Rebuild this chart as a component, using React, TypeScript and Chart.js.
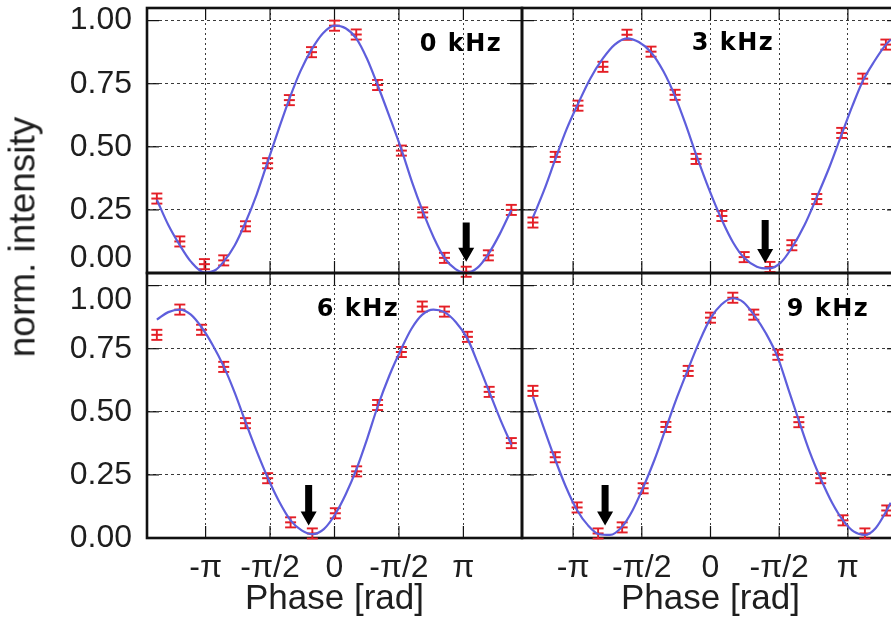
import React, { useEffect, useRef } from 'react';
import { Chart, registerables } from 'chart.js';

Chart.register(...registerables);

// ---------- data ----------
const xTickValues = [-Math.PI, -Math.PI / 2, 0, Math.PI / 2, Math.PI];
const xTickLabels = ['-π', '-π/2', '0', '-π/2', 'π'];
const yTickValues = [0, 0.25, 0.5, 0.75, 1.0];
const yTickLabels = ['0.00', '0.25', '0.50', '0.75', '1.00'];

const panelLabels = ['0 kHz', '3 kHz', '6 kHz', '9 kHz'];

// 0 kHz
const phase0 = [-4.33, -3.77, -3.17, -2.70, -2.17, -1.63, -1.10, -0.56, 0.00, 0.53, 1.05, 1.63, 2.15, 2.68, 3.21, 3.75, 4.31];
const int0 = [0.295, 0.125, 0.035, 0.05, 0.185, 0.435, 0.685, 0.875, 0.98, 0.945, 0.745, 0.485, 0.24, 0.06, 0.005, 0.07, 0.25];
const fitPhase0 = [-4.33, -4.05, -3.77, -3.50, -3.17, -2.90, -2.70, -2.43, -2.17, -1.90, -1.63, -1.37, -1.10, -0.83, -0.56, -0.28, 0.00, 0.27, 0.53, 0.79, 1.05, 1.34, 1.63, 1.89, 2.15, 2.42, 2.68, 2.95, 3.21, 3.48, 3.75, 4.03, 4.31];
const fit0 = [0.29, 0.19, 0.11, 0.045, 0.002, 0.012, 0.045, 0.11, 0.20, 0.31, 0.44, 0.565, 0.69, 0.80, 0.885, 0.95, 0.98, 0.97, 0.93, 0.85, 0.745, 0.62, 0.49, 0.36, 0.245, 0.14, 0.06, 0.015, 0.0, 0.02, 0.075, 0.155, 0.25];

// 3 kHz
const phase3 = [-4.06, -3.55, -3.03, -2.46, -1.91, -1.36, -0.81, -0.33, 0.26, 0.77, 1.36, 1.86, 2.43, 3.00, 3.48, 4.01];
const int3 = [0.20, 0.46, 0.663, 0.817, 0.944, 0.877, 0.706, 0.452, 0.226, 0.063, 0.024, 0.11, 0.293, 0.555, 0.77, 0.905];
const fitPhase3 = [-4.06, -3.80, -3.55, -3.29, -3.03, -2.75, -2.46, -2.19, -1.91, -1.64, -1.36, -1.08, -0.81, -0.57, -0.33, -0.03, 0.26, 0.52, 0.77, 1.06, 1.33, 1.60, 1.86, 2.15, 2.43, 2.72, 3.00, 3.24, 3.48, 3.75, 4.01, 4.12];
const fit3 = [0.22, 0.33, 0.45, 0.57, 0.67, 0.77, 0.85, 0.905, 0.93, 0.915, 0.875, 0.80, 0.70, 0.59, 0.47, 0.33, 0.21, 0.12, 0.06, 0.025, 0.018, 0.04, 0.10, 0.19, 0.30, 0.42, 0.55, 0.66, 0.76, 0.84, 0.905, 0.925];

// 6 kHz
const phase6 = [-4.33, -3.77, -3.24, -2.70, -2.17, -1.63, -1.07, -0.54, 0.02, 0.54, 1.05, 1.63, 2.14, 2.68, 3.24, 3.77, 4.31];
const int6 = [0.805, 0.905, 0.825, 0.678, 0.455, 0.237, 0.062, 0.018, 0.098, 0.264, 0.527, 0.737, 0.917, 0.897, 0.797, 0.579, 0.376];
const fitPhase6 = [-4.33, -4.05, -3.77, -3.50, -3.24, -2.97, -2.70, -2.43, -2.17, -1.90, -1.63, -1.35, -1.07, -0.80, -0.54, -0.26, 0.02, 0.28, 0.54, 0.80, 1.05, 1.34, 1.63, 1.88, 2.14, 2.41, 2.68, 2.96, 3.24, 3.50, 3.77, 4.04, 4.31];
const fit6 = [0.865, 0.895, 0.905, 0.885, 0.835, 0.765, 0.68, 0.575, 0.46, 0.345, 0.24, 0.145, 0.07, 0.03, 0.015, 0.035, 0.095, 0.175, 0.275, 0.395, 0.52, 0.645, 0.75, 0.83, 0.885, 0.905, 0.895, 0.855, 0.79, 0.69, 0.58, 0.47, 0.37];

// 9 kHz
const phase9 = [-4.06, -3.55, -3.05, -2.57, -2.02, -1.54, -1.02, -0.51, 0.00, 0.51, 0.99, 1.54, 2.02, 2.52, 3.03, 3.53, 4.03];
const int9 = [0.583, 0.32, 0.121, 0.018, 0.042, 0.197, 0.44, 0.662, 0.873, 0.952, 0.885, 0.726, 0.459, 0.237, 0.07, 0.018, 0.109];
const fitPhase9 = [-4.06, -3.80, -3.55, -3.30, -3.05, -2.80, -2.55, -2.30, -2.02, -1.78, -1.54, -1.28, -1.02, -0.76, -0.51, -0.25, 0.00, 0.25, 0.50, 0.75, 0.99, 1.27, 1.54, 1.78, 2.02, 2.27, 2.52, 2.78, 3.03, 3.28, 3.53, 3.78, 4.03, 4.12];
const fit9 = [0.56, 0.43, 0.31, 0.20, 0.11, 0.05, 0.015, 0.012, 0.045, 0.11, 0.20, 0.31, 0.435, 0.56, 0.67, 0.78, 0.87, 0.925, 0.95, 0.935, 0.885, 0.81, 0.715, 0.59, 0.465, 0.34, 0.235, 0.14, 0.07, 0.025, 0.012, 0.04, 0.11, 0.14];

const errBar = 0.02;

// arrows (phase, top value, tip value)
const arrowPhase = [3.21, 1.25, -0.63, -2.41];
const arrowTop = [0.20, 0.21, 0.21, 0.21];
const arrowTip = [0.045, 0.04, 0.05, 0.05];

const phases = [phase0, phase3, phase6, phase9];
const ints = [int0, int3, int6, int9];
const fitPhases = [fitPhase0, fitPhase3, fitPhase6, fitPhase9];
const fits = [fit0, fit3, fit6, fit9];

// ---------- layout / style ----------
const CW = 910;
const CH = 638;
const FONT = '"Liberation Sans", Arial, Helvetica, sans-serif';
const TEXT = '#1e1e1e';
const RED = '#e41e26';
const BLUE = '#5e5edc';
const GRID = '#3a3a3a';

const layouts = [
  { left: 147, right: 522, top: 8, bottom: 273, xMin: -4.57, xMax: 4.57, showY: true, showX: false, row: 0, ldx: 313, ldy: 36.5 },
  { left: 522, right: 899, top: 8, bottom: 273, xMin: -4.31, xMax: 4.31, showY: false, showX: false, row: 0, ldx: 210, ldy: 36 },
  { left: 147, right: 522, top: 273, bottom: 538, xMin: -4.57, xMax: 4.57, showY: true, showX: true, row: 1, ldx: 210, ldy: 37 },
  { left: 522, right: 899, top: 273, bottom: 538, xMin: -4.31, xMax: 4.31, showY: false, showX: true, row: 1, ldx: 305, ldy: 36.5 },
];

function buildConfig(idx: number): any {
  const L = layouts[idx];
  const phase = phases[idx];
  const vals = ints[idx];
  const yAxisWidth = L.showY ? L.left : 0;

  const decor = {
    id: 'decor' + idx,
    beforeDatasetsDraw(chart: any) {
      const { ctx, chartArea: a, scales } = chart;
      const x = scales.x;
      const y = scales.y;
      ctx.save();
      ctx.setLineDash([]);
      ctx.strokeStyle = '#111';
      ctx.lineWidth = 1.2;
      const seg = (x1: number, y1: number, x2: number, y2: number) => {
        ctx.beginPath();
        ctx.moveTo(x1, y1);
        ctx.lineTo(x2, y2);
        ctx.stroke();
      };
      for (const v of yTickValues) {
        const py = y.getPixelForValue(v);
        seg(a.left, py, a.left + 12, py);
        seg(a.right - 12, py, a.right, py);
      }
      for (const v of xTickValues) {
        const px = x.getPixelForValue(v);
        seg(px, a.top, px, a.top + 12);
        seg(px, a.bottom - 12, px, a.bottom);
      }
      ctx.lineWidth = 2.6;
      ctx.strokeRect(a.left, a.top, a.right - a.left, a.bottom - a.top);
      // error bars
      ctx.strokeStyle = RED;
      ctx.lineWidth = 1.9;
      for (let i = 0; i < phase.length; i++) {
        const px = x.getPixelForValue(phase[i]);
        const yt = y.getPixelForValue(vals[i] + errBar);
        const yb = y.getPixelForValue(vals[i] - errBar);
        seg(px, yt, px, yb);
        seg(px - 5.5, yt, px + 5.5, yt);
        seg(px - 5.5, yb, px + 5.5, yb);
      }
      ctx.restore();
    },
    afterDatasetsDraw(chart: any) {
      const { ctx, chartArea: a, scales } = chart;
      const x = scales.x;
      const y = scales.y;
      ctx.save();
      // arrow
      const ax = x.getPixelForValue(arrowPhase[idx]);
      const aTop = y.getPixelForValue(arrowTop[idx]);
      const aTip = y.getPixelForValue(arrowTip[idx]);
      const headLen = 14;
      const shaftW = 3.5;
      const headW = 8;
      ctx.fillStyle = '#000';
      ctx.beginPath();
      ctx.moveTo(ax - shaftW, aTop);
      ctx.lineTo(ax + shaftW, aTop);
      ctx.lineTo(ax + shaftW, aTip - headLen);
      ctx.lineTo(ax + headW, aTip - headLen);
      ctx.lineTo(ax, aTip);
      ctx.lineTo(ax - headW, aTip - headLen);
      ctx.lineTo(ax - shaftW, aTip - headLen);
      ctx.closePath();
      ctx.fill();
      // panel label
      ctx.font = 'bold 24px "DejaVu Sans", ' + FONT;
      (ctx as any).letterSpacing = '1.5px';
      ctx.fillStyle = '#000';
      ctx.textAlign = 'center';
      ctx.textBaseline = 'middle';
      ctx.fillText(panelLabels[idx], a.left + L.ldx + 1, a.top + L.ldy);
      ctx.restore();
    },
  };

  return {
    type: 'scatter',
    data: {
      datasets: [
        {
          type: 'line',
          data: fitPhases[idx].map((p, i) => ({ x: p, y: fits[idx][i] })),
          borderColor: BLUE,
          borderWidth: 2.2,
          pointRadius: 0,
          cubicInterpolationMode: 'monotone',
          fill: false,
          clip: false,
        },
        {
          type: 'scatter',
          data: phase.map((p, i) => ({ x: p, y: vals[i] })),
          pointStyle: 'line',
          pointRadius: 5.5,
          borderWidth: 2,
          borderColor: RED,
          backgroundColor: RED,
          clip: false,
        },
      ],
    },
    options: {
      responsive: false,
      animation: false,
      events: [],
      layout: {
        padding: {
          left: L.left - yAxisWidth,
          top: L.top,
          right: CW - L.right,
          bottom: L.showX ? 0 : CH - L.bottom,
        },
      },
      plugins: {
        legend: { display: false },
        tooltip: { enabled: false },
      },
      scales: {
        x: {
          type: 'linear',
          position: 'bottom',
          min: L.xMin,
          max: L.xMax,
          afterBuildTicks: (s: any) => {
            s.ticks = xTickValues.map((v) => ({ value: v }));
          },
          afterFit: (s: any) => {
            s.height = L.showX ? CH - L.bottom : 0;
            s.paddingLeft = 0;
            s.paddingRight = 0;
            s.paddingTop = 0;
            s.paddingBottom = 0;
          },
          ticks: {
            display: L.showX,
            autoSkip: false,
            maxRotation: 0,
            minRotation: 0,
            padding: 11,
            color: TEXT,
            font: { family: FONT, size: 32 },
            callback: (_v: any, i: number) => xTickLabels[i],
          },
          grid: { color: GRID, lineWidth: 1, drawTicks: false },
          border: { display: false, dash: [2, 3] },
          title: {
            display: L.showX,
            text: 'Phase [rad]',
            color: TEXT,
            font: { family: FONT, size: 35 },
            padding: { top: 0, bottom: 18 },
          },
        },
        y: {
          type: 'linear',
          position: 'left',
          min: 0,
          max: 1.05,
          afterBuildTicks: (s: any) => {
            s.ticks = yTickValues.map((v) => ({ value: v }));
          },
          afterFit: (s: any) => {
            s.width = yAxisWidth;
            s.paddingLeft = 0;
            s.paddingRight = 0;
            s.paddingTop = 0;
            s.paddingBottom = 0;
          },
          ticks: {
            display: L.showY,
            autoSkip: false,
            padding: 15,
            color: TEXT,
            font: { family: FONT, size: 32, lineHeight: 0.9 },
            callback: (_v: any, i: number) => {
              const lbl = yTickLabels[i];
              if (L.row === 0 && i === 0) return [lbl, ''];
              if (L.row === 1 && i === yTickValues.length - 1) return ['', lbl];
              return lbl;
            },
          },
          grid: { color: GRID, lineWidth: 1, drawTicks: false },
          border: { display: false, dash: [3, 3] },
        },
      },
    },
    plugins: [decor],
  };
}

function Panel({ idx }: { idx: number }) {
  const ref = useRef<HTMLCanvasElement>(null);
  useEffect(() => {
    if (!ref.current) return;
    const chart = new Chart(ref.current, buildConfig(idx));
    return () => chart.destroy();
  }, [idx]);
  return (
    <canvas
      ref={ref}
      width={CW}
      height={CH}
      style={{ position: 'absolute', left: 0, top: 0, width: CW, height: CH, pointerEvents: 'none' }}
    />
  );
}

export default function App() {
  return (
    <div
      style={{
        position: 'absolute',
        left: 0,
        top: 0,
        width: 891,
        height: 638,
        overflow: 'hidden',
        background: '#ffffff',
      }}
    >
      {[0, 1, 2, 3].map((i) => (
        <Panel key={i} idx={i} />
      ))}
      <div
        style={{
          position: 'absolute',
          left: 22,
          top: 237,
          transform: 'translate(-50%, -50%) rotate(-90deg)',
          font: '37px ' + FONT,
          color: TEXT,
          whiteSpace: 'nowrap',
          lineHeight: 1,
        }}
      >
        norm. intensity
      </div>
    </div>
  );
}
